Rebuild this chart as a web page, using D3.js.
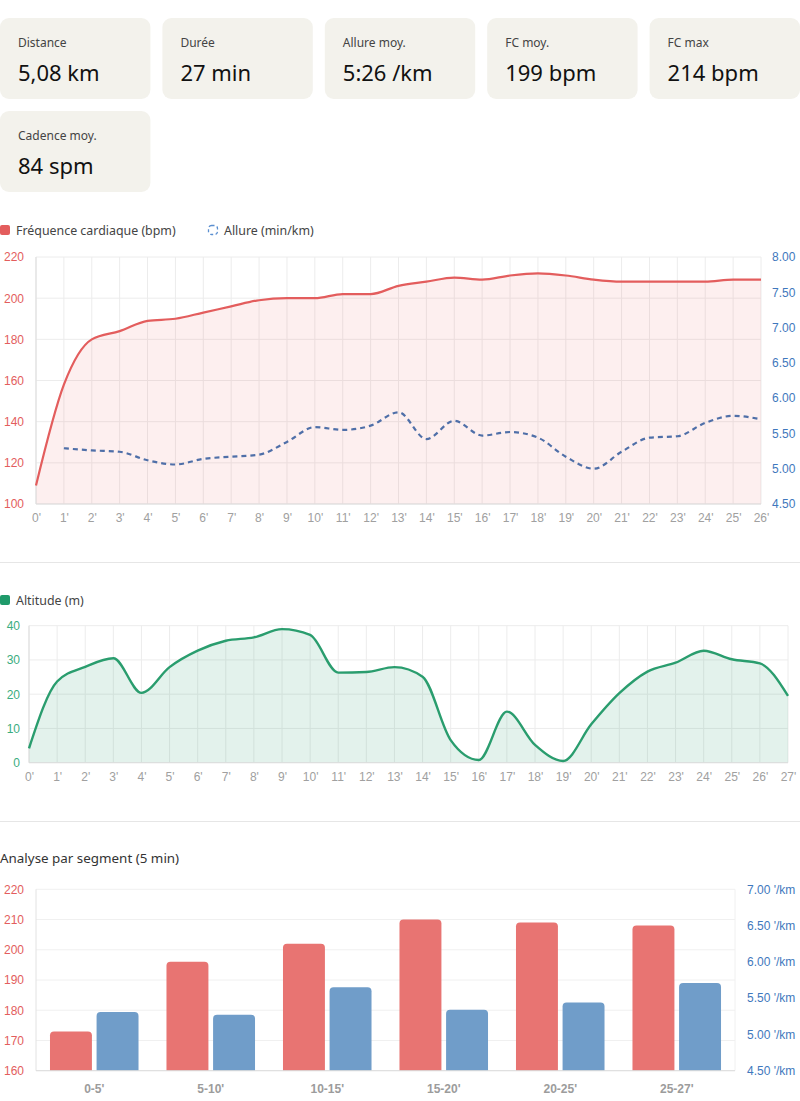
<!DOCTYPE html>
<html>
<head>
<meta charset="utf-8">
<script src="https://cdn.jsdelivr.net/npm/d3@7"></script>
<style>
  body { margin: 0; background: #fff; }
  svg { display: block; }
  .tick text { font-family: "Liberation Sans", Arial, sans-serif; font-size: 12px; }
</style>
</head>
<body>
<div id="chart"></div>
<script>
// stats cards
var statLabels = ["Distance", "Durée", "Allure moy.", "FC moy.", "FC max", "Cadence moy."];
var statValues = ["5,08 km", "27 min", "5:26 /km", "199 bpm", "214 bpm", "84 spm"];

// heart rate + pace per minute
var hrMinutes = d3.range(0, 27);
var hrValues = [109, 158, 180, 184, 189, 190, 193, 196, 199, 200, 200, 202, 202, 206, 208, 210, 209, 211, 212, 211, 209, 208, 208, 208, 208, 209, 209];
var paceMinutes = d3.range(1, 27);
var paceValues = [5.29, 5.26, 5.24, 5.12, 5.06, 5.14, 5.17, 5.20, 5.38, 5.59, 5.55, 5.61, 5.80, 5.42, 5.68, 5.47, 5.52, 5.44, 5.17, 5.00, 5.24, 5.44, 5.46, 5.65, 5.75, 5.70];
var hrTicks = [100, 120, 140, 160, 180, 200, 220];
var paceTicks = [4.5, 5, 5.5, 6, 6.5, 7, 7.5, 8];

// altitude per minute
var altMinutes = d3.range(0, 28);
var altValues = [4.2, 23.7, 28, 30.5, 20.4, 27.9, 32.7, 35.6, 36.6, 39, 37.3, 26.3, 26.5, 27.9, 25.1, 6.6, 0.8, 14.9, 5.2, 0.5, 11.2, 20.3, 26.6, 29.2, 32.7, 30.2, 29, 19.5];
var altTicks = [0, 10, 20, 30, 40];

// segments
var segments = ["0-5'", "5-10'", "10-15'", "15-20'", "20-25'", "25-27'"];
var segHr = [173, 196, 202, 210, 209, 208];
var segPace = [5.31, 5.27, 5.65, 5.34, 5.44, 5.71];
var segHrTicks = [160, 170, 180, 190, 200, 210, 220];
var segPaceTicks = [4.5, 5, 5.5, 6, 6.5, 7];

var red = "#e35d5d", blue = "#4f6fa8", green = "#2a9d6e", grid = "#ececec", greyTxt = "#a0a0a0";
var W = 800, H = 1101;

var svg = d3.select("#chart").append("svg").attr("width", W).attr("height", H);

// ---- cards
var cardW = 150.4, cardH = 81, gap = 12;
var cards = svg.selectAll(".card").data(statLabels).enter().append("g")
    .attr("class", "card")
    .attr("transform", function(d, i) {
        var col = i % 5, row = Math.floor(i / 5);
        return "translate(" + (col * (cardW + gap)) + "," + (18 + row * 93) + ")";
    });
cards.append("rect").attr("width", cardW).attr("height", cardH).attr("rx", 9).attr("fill", "#f3f2ec");
cards.append("text").text(function(d) { return d; })
    .attr("x", 18).attr("y", 29).attr("fill", "#444")
    .style("font-family", "'Noto Sans', sans-serif").style("font-size", "12px");
cards.append("text").text(function(d, i) { return statValues[i]; })
    .attr("x", 18).attr("y", 63).attr("fill", "#111")
    .style("font-family", "'Noto Sans', sans-serif").style("font-size", "22px");

function legendItem(x, y, label, draw) {
    var g = svg.append("g").attr("transform", "translate(" + x + "," + y + ")");
    draw(g);
    g.append("text").text(label).attr("x", 16).attr("y", 5)
        .attr("fill", "#444")
        .style("font-family", "'Noto Sans', sans-serif").style("font-size", "12.4px");
}

function styleAxis(g, color) {
    g.select(".domain").remove();
    g.selectAll(".tick line").remove();
    g.selectAll(".tick text").attr("fill", color);
}

// ---- chart 1 : heart rate & pace
(function() {
    var x = d3.scaleLinear().domain([0, 26]).range([36, 761]);
    var y = d3.scaleLinear().domain([100, 220]).range([504, 257]);
    var y2 = d3.scaleLinear().domain([4.5, 8]).range([504, 257]);

    legendItem(0, 230, "Fréquence cardiaque (bpm)", function(g) {
        g.append("rect").attr("x", 0).attr("y", -5).attr("width", 10).attr("height", 10).attr("rx", 2).attr("fill", red);
    });
    legendItem(208, 230, "Allure (min/km)", function(g) {
        g.append("rect").attr("x", 0.5).attr("y", -4.5).attr("width", 9).attr("height", 9).attr("rx", 3)
            .attr("fill", "none").attr("stroke", "#5b8fd0").attr("stroke-width", 1.3).attr("stroke-dasharray", "3,2.5");
    });

    svg.append("g").selectAll("line").data(hrTicks).enter().append("line")
        .attr("x1", 36).attr("x2", 761).attr("y1", function(d) { return y(d); }).attr("y2", function(d) { return y(d); })
        .attr("stroke", grid);
    svg.append("g").selectAll("line").data(hrMinutes).enter().append("line")
        .attr("x1", function(d) { return x(d); }).attr("x2", function(d) { return x(d); })
        .attr("y1", 257).attr("y2", 504).attr("stroke", grid);

    var area = d3.area().x(function(d, i) { return x(hrMinutes[i]); }).y0(y(100)).y1(function(d) { return y(d); }).curve(d3.curveMonotoneX);
    svg.append("path").datum(hrValues).attr("d", area).attr("fill", "rgba(231,76,76,0.09)");

    svg.append("line").attr("x1", 36).attr("x2", 36).attr("y1", 257).attr("y2", 504).attr("stroke", "#ddd");
    svg.append("line").attr("x1", 36).attr("x2", 761).attr("y1", 504).attr("y2", 504).attr("stroke", "#ddd");

    var line = d3.line().x(function(d, i) { return x(hrMinutes[i]); }).y(function(d) { return y(d); }).curve(d3.curveMonotoneX);
    svg.append("path").datum(hrValues).attr("d", line).attr("fill", "none").attr("stroke", red).attr("stroke-width", 2.2);

    var pline = d3.line().x(function(d, i) { return x(paceMinutes[i]); }).y(function(d) { return y2(d); }).curve(d3.curveMonotoneX);
    svg.append("path").datum(paceValues).attr("d", pline).attr("fill", "none").attr("stroke", blue)
        .attr("stroke-width", 2.2).attr("stroke-dasharray", "5,4");

    var ax = svg.append("g").attr("transform", "translate(0,510)")
        .call(d3.axisBottom(x).tickValues(hrMinutes).tickSize(0).tickFormat(function(d) { return d + "'"; }));
    styleAxis(ax, greyTxt);
    var al = svg.append("g").attr("transform", "translate(33,0)")
        .call(d3.axisLeft(y).tickValues(hrTicks).tickSize(0).tickPadding(9));
    styleAxis(al, red);
    var ar = svg.append("g").attr("transform", "translate(765,0)")
        .call(d3.axisRight(y2).tickValues(paceTicks).tickSize(0).tickPadding(7).tickFormat(d3.format(".2f")));
    styleAxis(ar, "#3f78bd");
})();

svg.append("line").attr("x1", 0).attr("x2", W).attr("y1", 562.5).attr("y2", 562.5).attr("stroke", "#e6e6e6");

// ---- chart 2 : altitude
(function() {
    var x = d3.scaleLinear().domain([0, 27]).range([29, 788]);
    var y = d3.scaleLinear().domain([0, 40]).range([762.7, 625.7]);

    legendItem(0, 600, "Altitude (m)", function(g) {
        g.append("rect").attr("x", 0).attr("y", -5).attr("width", 10).attr("height", 10).attr("rx", 2).attr("fill", "#1f9a6a");
    });

    svg.append("g").selectAll("line").data(altTicks).enter().append("line")
        .attr("x1", 29).attr("x2", 788).attr("y1", function(d) { return y(d); }).attr("y2", function(d) { return y(d); })
        .attr("stroke", grid);
    svg.append("g").selectAll("line").data(altMinutes).enter().append("line")
        .attr("x1", function(d) { return x(d); }).attr("x2", function(d) { return x(d); })
        .attr("y1", 625.7).attr("y2", 762.7).attr("stroke", grid);

    var area = d3.area().x(function(d, i) { return x(altMinutes[i]); }).y0(y(0)).y1(function(d) { return y(d); }).curve(d3.curveMonotoneX);
    svg.append("path").datum(altValues).attr("d", area).attr("fill", "rgba(42,157,110,0.13)");

    svg.append("line").attr("x1", 29).attr("x2", 29).attr("y1", 625.7).attr("y2", 762.7).attr("stroke", "#ddd");
    svg.append("line").attr("x1", 29).attr("x2", 788).attr("y1", 762.7).attr("y2", 762.7).attr("stroke", "#ddd");

    var line = d3.line().x(function(d, i) { return x(altMinutes[i]); }).y(function(d) { return y(d); }).curve(d3.curveMonotoneX);
    svg.append("path").datum(altValues).attr("d", line).attr("fill", "none").attr("stroke", green).attr("stroke-width", 2.4);

    var ax = svg.append("g").attr("transform", "translate(0,769)")
        .call(d3.axisBottom(x).tickValues(altMinutes).tickSize(0).tickFormat(function(d) { return d + "'"; }));
    styleAxis(ax, greyTxt);
    var al = svg.append("g").attr("transform", "translate(27,0)")
        .call(d3.axisLeft(y).tickValues(altTicks).tickSize(0).tickPadding(7));
    styleAxis(al, "#3aad80");
})();

svg.append("line").attr("x1", 0).attr("x2", W).attr("y1", 821.5).attr("y2", 821.5).attr("stroke", "#e6e6e6");

// ---- chart 3 : segments
(function() {
    svg.append("text").text("Analyse par segment (5 min)").attr("x", 0).attr("y", 863)
        .attr("fill", "#333").style("font-family", "'Noto Sans', sans-serif").style("font-size", "13.4px");

    var x0 = d3.scaleBand().domain(segments).range([36, 735]).paddingInner(0.2).paddingOuter(0.1);
    var x1 = d3.scaleBand().domain(["hr", "pace"]).range([0, x0.bandwidth()]).paddingInner(0.1).paddingOuter(0.05);
    var y = d3.scaleLinear().domain([160, 220]).range([1070.7, 889.3]);
    var y2 = d3.scaleLinear().domain([4.5, 7]).range([1070.7, 889.3]);

    svg.append("g").selectAll("line").data(segHrTicks).enter().append("line")
        .attr("x1", 36).attr("x2", 735).attr("y1", function(d) { return y(d); }).attr("y2", function(d) { return y(d); })
        .attr("stroke", "#f0f0f0");
    svg.append("line").attr("x1", 735).attr("x2", 735).attr("y1", 889.3).attr("y2", 1070.7).attr("stroke", "#f0f0f0");

    function bar(d, h) { // rounded top corners
        var r = 4;
        return "M0," + h + "V" + r + "Q0,0 " + r + ",0H" + (d - r) + "Q" + d + ",0 " + d + "," + r + "V" + h + "Z";
    }
    var groups = svg.append("g").selectAll("g").data(segments).enter().append("g")
        .attr("transform", function(d) { return "translate(" + x0(d) + ",0)"; });
    groups.append("path")
        .attr("transform", function(d, i) { return "translate(" + x1("hr") + "," + y(segHr[i]) + ")"; })
        .attr("d", function(d, i) { return bar(x1.bandwidth(), y(160) - y(segHr[i])); })
        .attr("fill", "#e87472");
    groups.append("path")
        .attr("transform", function(d, i) { return "translate(" + x1("pace") + "," + y2(segPace[i]) + ")"; })
        .attr("d", function(d, i) { return bar(x1.bandwidth(), y2(4.5) - y2(segPace[i])); })
        .attr("fill", "#709dc9");

    svg.append("line").attr("x1", 36).attr("x2", 36).attr("y1", 889.3).attr("y2", 1070.7).attr("stroke", "#e2e2e2");
    svg.append("line").attr("x1", 36).attr("x2", 735).attr("y1", 1070.7).attr("y2", 1070.7).attr("stroke", "#dcdcdc");

    var ax = svg.append("g").attr("transform", "translate(0,1081)")
        .call(d3.axisBottom(x0).tickSize(0));
    styleAxis(ax, greyTxt);
    ax.selectAll(".tick text").style("font-weight", "bold").attr("fill", "#9c9c9c");
    var al = svg.append("g").attr("transform", "translate(33,0)")
        .call(d3.axisLeft(y).tickValues(segHrTicks).tickSize(0).tickPadding(9));
    styleAxis(al, red);
    var ar = svg.append("g").attr("transform", "translate(740,0)")
        .call(d3.axisRight(y2).tickValues(segPaceTicks).tickSize(0).tickPadding(7)
            .tickFormat(function(d) { return d3.format(".2f")(d) + " '/km"; }));
    styleAxis(ar, "#3f78bd");
})();
</script>
</body>
</html>
